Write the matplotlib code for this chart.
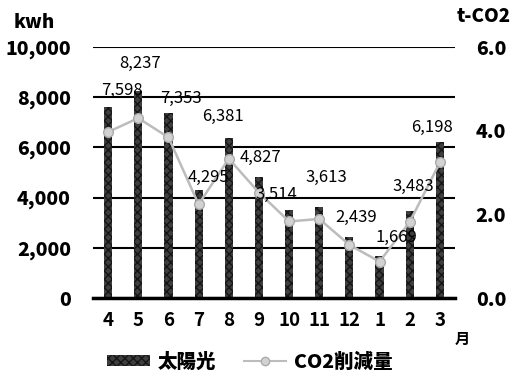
import matplotlib
matplotlib.use('Agg')
import matplotlib.pyplot as plt
from matplotlib.patches import Patch
from matplotlib.lines import Line2D

plt.rcParams['font.family'] = ['Noto Sans CJK JP', 'DejaVu Sans']

months = ['4', '5', '6', '7', '8', '9', '10', '11', '12', '1', '2', '3']
solar_kwh = [7598, 8237, 7353, 4295, 6381, 4827, 3514, 3613, 2439, 1669, 3483, 6198]
co2_cut = [3.97, 4.30, 3.84, 2.24, 3.33, 2.52, 1.83, 1.89, 1.27, 0.87, 1.82, 3.24]

# where each value label sits relative to the top of its bar (pixels)
label_offsets = [(14, 17), (2, 28), (12, 15), (10, 13), (-6, 21), (2, 19),
                 (-13, 15), (7, 30), (7, 19), (17, 19), (4, 24), (-8, 15)]

fig = plt.figure(figsize=(5.17, 3.77), dpi=100)
fig.patch.set_facecolor('white')
ax = fig.add_axes([0.180, 0.2095, 0.700, 0.6658])
ax2 = ax.twinx()

x = range(len(months))
ax.bar(x, solar_kwh, width=0.27, color='#3e3e3e', edgecolor='#151515',
       hatch='xxxx', linewidth=0, zorder=3)
ax2.plot(x, co2_cut, color='#bcbcbc', lw=1.8, marker='o', ms=7,
         mfc='#d2d2d2', mec='#ababab', mew=1, zorder=4)

ax.set_xlim(-0.5, len(months) - 0.5)
ax.set_ylim(0, 10000)
ax2.set_ylim(0, 6)
ax.set_yticks(range(0, 10001, 2000))
ax.set_yticklabels([f'{v:,}' for v in range(0, 10001, 2000)],
                   fontsize=14, fontweight='heavy')
ax2.set_yticks([0, 2, 4, 6])
ax2.set_yticklabels(['0.0', '2.0', '4.0', '6.0'], fontsize=14, fontweight='heavy')
ax.set_xticks(list(x))
ax.set_xticklabels(months, fontsize=13.5, fontweight='bold')

ax.grid(axis='y', color='black', lw=1.5, zorder=1)
for a in (ax, ax2):
    for s in ('top', 'left', 'right', 'bottom'):
        a.spines[s].set_visible(False)
ax.axhline(0, color='black', lw=2.5, zorder=5, clip_on=False)
ax.tick_params(axis='both', length=0)
ax.tick_params(axis='y', pad=16)
ax.tick_params(axis='x', pad=9)
ax2.tick_params(axis='y', length=0, pad=15)

for i, (v, (dx, dy)) in enumerate(zip(solar_kwh, label_offsets)):
    ax2.annotate(f'{v:,}', xy=(i, v), xycoords=ax.transData,
                 xytext=(dx, dy), textcoords='offset pixels',
                 ha='center', va='center', fontsize=12, zorder=6)

fig.text(34 / 517, 1 - 22 / 377, 'kwh', ha='center', va='center',
         fontsize=13.5, fontweight='heavy')
fig.text(484 / 517, 1 - 17 / 377, 't-CO2', ha='center', va='center',
         fontsize=13.5, fontweight='heavy')
fig.text(462 / 517, 1 - 339 / 377, '月', ha='center', va='center',
         fontsize=11, fontweight='bold')

handles = [Patch(facecolor='#3e3e3e', edgecolor='#151515', hatch='xxxx', lw=0),
           Line2D([], [], color='#bcbcbc', lw=1.5, marker='o', ms=6,
                  mfc='#d2d2d2', mec='#ababab')]
fig.legend(handles, ['太陽光', 'CO2削減量'], loc='center',
           bbox_to_anchor=(250 / 517, 1 - 362 / 377), ncol=2, frameon=False,
           prop={'size': 14, 'weight': 'heavy'}, handlelength=2.2,
           handleheight=0.5, columnspacing=1.4, handletextpad=0.4)

fig.savefig('out.png', dpi=100, facecolor='white')
